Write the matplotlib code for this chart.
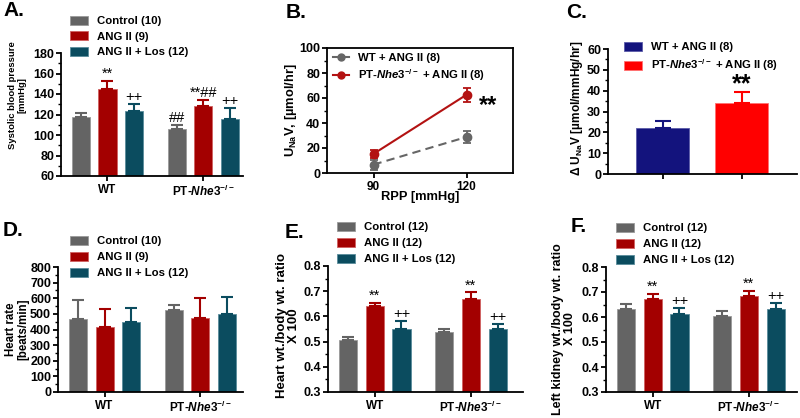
import matplotlib
matplotlib.use('Agg')
import matplotlib.pyplot as plt
from matplotlib.lines import Line2D
from matplotlib.ticker import MultipleLocator
import numpy as np

plt.rcParams['font.family'] = ['Liberation Sans', 'DejaVu Sans']
plt.rcParams['font.weight'] = 'bold'
plt.rcParams['mathtext.fontset'] = 'custom'
plt.rcParams['mathtext.rm'] = 'Liberation Sans:bold'
plt.rcParams['mathtext.bf'] = 'Liberation Sans:bold'
plt.rcParams['mathtext.it'] = 'Liberation Sans:italic:bold'
plt.rcParams['mathtext.default'] = 'rm'

# ---- data ----
groups = ['WT', r'PT-$\mathit{Nhe3}^{-/-}$']
treatments = ['Control', 'ANG II', 'ANG II + Los']

# A. systolic blood pressure
sbp_n = [10, 9, 12]
sbp_mean = [[118, 106], [145, 128], [123, 116]]
sbp_err = [[3, 3.5], [8, 6.5], [7, 10.4]]

# B. urinary Na excretion vs RPP
rpp = [90, 120]
una_wt = [6.7, 28.8]
una_wt_err = [4, 5]
una_pt = [15.3, 62.6]
una_pt_err = [3.5, 5.4]

# C. delta UNaV
dna_labels = ['WT + ANG II (8)', r'PT-$\mathit{Nhe3}^{-/-}$ + ANG II (8)']
dna_mean = [22, 33.9]
dna_err = [3.5, 5.3]

# D. heart rate
hr_n = [10, 9, 12]
hr_mean = [[470, 527], [416, 473], [448, 497]]
hr_err = [[117, 29], [115, 126], [89, 111]]

# E. heart wt / body wt
hw_n = [12, 12, 12]
hw_mean = [[0.508, 0.539], [0.641, 0.671], [0.55, 0.55]]
hw_err = [[0.012, 0.012], [0.014, 0.024], [0.032, 0.021]]

# F. left kidney wt / body wt
kw_n = [12, 12, 12]
kw_mean = [[0.633, 0.603], [0.672, 0.683], [0.612, 0.633]]
kw_err = [[0.02, 0.021], [0.021, 0.021], [0.023, 0.023]]

# significance marks: (treatment index, group index, text)
sbp_marks = [(1, 0, '**'), (2, 0, '++'), (0, 1, '##'), (1, 1, '**##'), (2, 1, '++')]
hw_marks = [(1, 0, '**'), (2, 0, '++'), (1, 1, '**'), (2, 1, '++')]
kw_marks = [(1, 0, '**'), (2, 0, '++'), (1, 1, '**'), (2, 1, '++')]

colors = ['#646464', '#a30000', '#0b4c5f']
edges = ['#9a9a9a', '#d06060', '#5a8c9c']

W, H = 800, 418
fig = plt.figure(figsize=(W / 100, H / 100), dpi=100)


def px_axes(left, top, right, bottom):
    # axes placed with pixel coords measured from top-left
    return fig.add_axes([left / W, 1 - bottom / H, (right - left) / W, (bottom - top) / H])


def fig_text(x, y, s, **kw):
    return fig.text(x / W, 1 - y / H, s, **kw)


def style_axes(ax, box=False):
    for s in ['left', 'bottom', 'top', 'right']:
        ax.spines[s].set_linewidth(1.3)
    if not box:
        ax.spines['top'].set_visible(False)
        ax.spines['right'].set_visible(False)
    ax.tick_params(axis='y', labelsize=9, width=1.3, length=3.5, pad=1.5)
    ax.tick_params(axis='x', labelsize=8.5, width=1.3, length=3.5, pad=2)
    ax.tick_params(axis='y', which='minor', width=1, length=2)
    ax.tick_params(axis='x', which='minor', bottom=False)
    for lab in ax.get_xticklabels() + ax.get_yticklabels():
        lab.set_fontweight('bold')


def bar_panel(ax, means, errs, ns, ymin, ymax, major, marks, xmax):
    xs = [np.array([0, 3.6]) + i for i in range(3)]
    for i in range(3):
        ax.bar(xs[i], means[i], width=0.68, color=colors[i], edgecolor=edges[i],
               linewidth=0.6, label='%s (%d)' % (treatments[i], ns[i]))
        ax.errorbar(xs[i], means[i], yerr=[np.zeros(2), errs[i]], fmt='none',
                    ecolor=colors[i], elinewidth=1.5, capsize=4, capthick=1.5)
    for ti, gi, txt in marks:
        top = means[ti][gi] + errs[ti][gi]
        ax.annotate(txt, (xs[ti][gi], top), xytext=(0, 0), textcoords='offset points',
                    ha='center', va='bottom', fontsize=10.5, fontweight='normal')
    ax.set_xticks([1, 4.6])
    ax.set_xticklabels(groups)
    ax.set_xlim(-0.75, xmax)
    ax.set_ylim(ymin, ymax)
    ax.yaxis.set_major_locator(MultipleLocator(major))
    ax.yaxis.set_minor_locator(MultipleLocator(major / 2))
    style_axes(ax)


def legend_at(ax, x, y, handles=None, spacing=0.45, hl=1.6):
    kw = dict(loc='upper left', bbox_to_anchor=(x / W, 1 - y / H), bbox_transform=fig.transFigure,
              frameon=False, fontsize=8.2, handlelength=hl, handleheight=0.8,
              handletextpad=0.8, labelspacing=spacing, borderpad=0, borderaxespad=0)
    if handles is not None:
        return ax.legend(handles=handles, **kw)
    return ax.legend(**kw)


def ylabel_at(x, ymid, s, size):
    fig_text(x, ymid, s, rotation=90, ha='center', va='center', multialignment='center',
             fontsize=size, fontweight='bold', linespacing=1.1)


def panel_letter(x, y, s):
    fig_text(x, y, s, fontsize=15, fontweight='bold', ha='left', va='center')


# A. systolic blood pressure
axA = px_axes(61, 53, 243, 176)
bar_panel(axA, sbp_mean, sbp_err, sbp_n, 60, 180, 20, sbp_marks, 6.1)
ylabel_at(17, 95, 'Systolic blood pressure\n[mmHg]', 6.8)
legend_at(axA, 70, 16)
panel_letter(3, 11, 'A.')

# B. UNaV vs RPP
axB = px_axes(327, 48, 513, 173)
axB.errorbar(rpp, una_wt, yerr=una_wt_err, color='#666666', ls=(0, (4, 2.5)), lw=1.5,
             marker='o', ms=6, capsize=3, elinewidth=1.3, capthick=1.3)
axB.errorbar(rpp, una_pt, yerr=una_pt_err, color='#b31212', ls='-', lw=1.5,
             marker='o', ms=6, capsize=3, elinewidth=1.3, capthick=1.3)
axB.annotate('**', (rpp[1], una_pt[1]), xytext=(9, -8), textcoords='offset points',
             ha='left', va='center', fontsize=17)
axB.set_xlim(75, 135)
axB.set_ylim(0, 100)
axB.set_xticks(rpp)
axB.yaxis.set_major_locator(MultipleLocator(20))
axB.yaxis.set_minor_locator(MultipleLocator(10))
style_axes(axB, box=True)
ylabel_at(291, 110, r'U$_{Na}$V, [µmol/hr]', 9.3)
fig_text(420, 197, 'RPP [mmHg]', ha='center', va='center', fontsize=9.3, fontweight='bold')
b_handles = [Line2D([], [], color='#666666', marker='o', ms=5, lw=1.5, label='WT + ANG II (8)'),
             Line2D([], [], color='#b31212', marker='o', ms=5, lw=1.5,
                    label=r'PT-$\mathit{Nhe3}^{-/-}$ + ANG II (8)')]
legend_at(axB, 333, 53, handles=b_handles, spacing=0.35, hl=1.4)
panel_letter(286, 12, 'B.')

# C. delta UNaV
axC = px_axes(608, 49, 797, 174)
c_x = [0, 1.5]
c_colors = ['#13137d', '#ff0000']
c_edges = ['#5a5aa8', '#ff7070']
for i in range(2):
    axC.bar(c_x[i], dna_mean[i], width=1.0, color=c_colors[i], edgecolor=c_edges[i],
            linewidth=0.6, label=dna_labels[i])
    axC.errorbar(c_x[i], dna_mean[i], yerr=[[0], [dna_err[i]]], fmt='none',
                 ecolor=c_colors[i], elinewidth=1.5, capsize=5.5, capthick=1.5)
axC.annotate('**', (c_x[1], dna_mean[1] + dna_err[1]), xytext=(0, -3),
             textcoords='offset points', ha='center', va='bottom', fontsize=18)
axC.set_xlim(-1.03, 2.54)
axC.set_ylim(0, 60)
axC.set_xticks(c_x)
axC.set_xticklabels([])
axC.yaxis.set_major_locator(MultipleLocator(10))
axC.yaxis.set_minor_locator(MultipleLocator(5))
style_axes(axC)
ylabel_at(577, 108, r'Δ U$_{Na}$V [µmol/mmHg/hr]', 8.6)
legend_at(axC, 624, 42)
panel_letter(566, 12, 'C.')

# D. heart rate
axD = px_axes(58, 267, 243, 392)
bar_panel(axD, hr_mean, hr_err, hr_n, 0, 800, 100, [], 6.2)
ylabel_at(17, 329, 'Heart rate\n[beats/min]', 8.3)
legend_at(axD, 70, 236, spacing=0.5)
panel_letter(3, 230, 'D.')

# E. heart wt / body wt
axE = px_axes(328, 266, 523, 392)
bar_panel(axE, hw_mean, hw_err, hw_n, 0.3, 0.8, 0.1, hw_marks, 6.55)
ylabel_at(288, 326, 'Heart wt./body wt. ratio\nX 100', 9.5)
legend_at(axE, 337, 222, spacing=0.5)
panel_letter(285, 232, 'E.')

# F. left kidney wt / body wt
axF = px_axes(606, 267, 797, 392)
bar_panel(axF, kw_mean, kw_err, kw_n, 0.3, 0.8, 0.1, kw_marks, 6.4)
ylabel_at(564, 329, 'Left kidney wt./body wt. ratio\nX 100', 9.0)
legend_at(axF, 616, 223, spacing=0.5)
panel_letter(571, 227, 'F.')

fig.savefig('out.png', dpi=100)
